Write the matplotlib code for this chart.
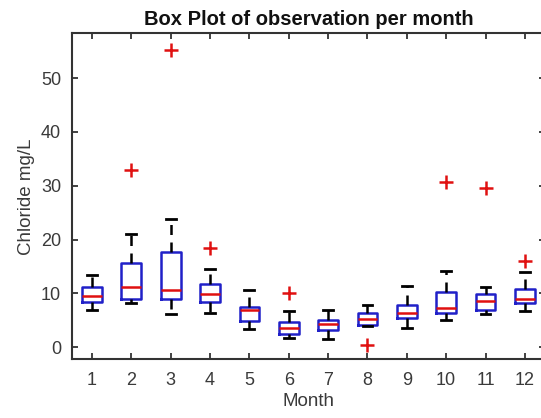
import matplotlib
matplotlib.use("Agg")
import matplotlib.pyplot as plt

# Valores (mg/L de cloreto por mês)
months = [1, 2, 3, 4, 5, 6, 7, 8, 9, 10, 11, 12]
whisker_low = [7.0, 8.2, 6.1, 6.4, 3.3, 1.8, 1.5, 3.9, 3.5, 5.1, 6.1, 6.7]
q1 = [8.4, 9.0, 8.9, 8.4, 4.8, 2.5, 3.2, 4.1, 5.4, 6.4, 6.9, 8.3]
median = [9.5, 11.2, 10.6, 9.8, 6.9, 3.5, 4.4, 5.3, 6.4, 7.2, 8.6, 9.0]
q3 = [11.1, 15.6, 17.6, 11.8, 7.4, 4.7, 5.1, 6.4, 7.9, 10.3, 9.9, 10.9]
whisker_high = [13.4, 21.1, 23.9, 14.6, 10.7, 6.7, 6.9, 7.8, 11.3, 14.2, 11.2, 14.0]
outliers = [[], [33.0], [55.3], [18.5], [], [10.0], [], [0.4], [], [30.7], [29.5], [16.0]]

TEXT_COLOR = "#3a3a3a"

plt.rcParams["font.family"] = ["Liberation Sans", "DejaVu Sans"]

fig = plt.figure(figsize=(5.41, 4.18), dpi=100)
ax = fig.add_axes([0.1336, 0.141, 0.873, 0.779])

stats = []
for i, m in enumerate(months):
    stats.append({
        "label": str(m),
        "whislo": whisker_low[i],
        "q1": q1[i],
        "med": median[i],
        "q3": q3[i],
        "whishi": whisker_high[i],
        "fliers": outliers[i],
    })

ax.bxp(
    stats,
    positions=months,
    widths=0.5,
    showfliers=True,
    boxprops=dict(color="#2020c8", linewidth=1.8),
    medianprops=dict(color="#e01010", linewidth=1.8),
    whiskerprops=dict(color="black", linewidth=1.8, linestyle=(0, (4, 3))),
    capprops=dict(color="black", linewidth=2.0),
    flierprops=dict(marker="+", markeredgecolor="#e01010", markersize=10, markeredgewidth=1.8),
)

ax.set_xlim(0.5, 12.5)
ax.set_ylim(-2.2, 58.3)
ax.set_xticks(months)
ax.set_xticklabels([str(m) for m in months])
ax.set_yticks([0, 10, 20, 30, 40, 50])

ax.tick_params(direction="in", top=True, right=True, length=4, width=1.3,
               colors="#333333", labelcolor=TEXT_COLOR, labelsize=13)
ax.tick_params(axis="x", pad=9)
ax.tick_params(axis="y", pad=8)
for spine in ax.spines.values():
    spine.set_linewidth(1.5)
    spine.set_color("#333333")

ax.set_xlabel("Month", fontsize=13.5, color=TEXT_COLOR, labelpad=3)
ax.set_ylabel("Chloride mg/L", fontsize=13.5, color=TEXT_COLOR, labelpad=4)
ax.set_title("Box Plot of observation per month", fontsize=14.5, fontweight="bold",
             color="#111111", pad=6)

fig.savefig("out.png", dpi=100)
